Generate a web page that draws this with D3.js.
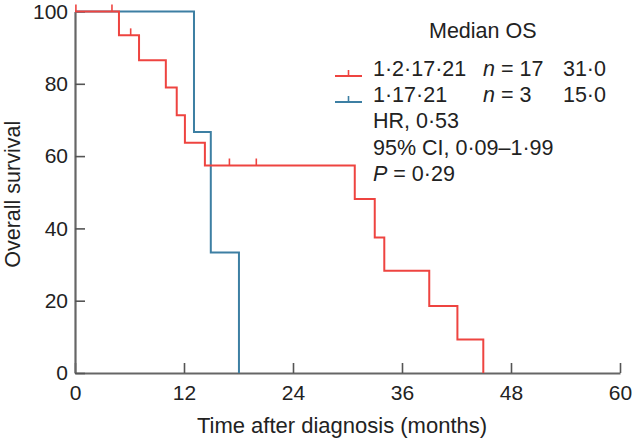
<!DOCTYPE html>
<html>
<head>
<meta charset="utf-8">
<script src="https://cdn.jsdelivr.net/npm/d3@7"></script>
<style>
  html, body { margin: 0; padding: 0; background: #fff; }
  svg { display: block; font-family: "Liberation Sans", Arial, sans-serif; }
</style>
</head>
<body>
<svg id="chart" width="632" height="440"></svg>
<script>
// ---- data ----
const xTicks = [0, 12, 24, 36, 48, 60];
const yTicks = [0, 20, 40, 60, 80, 100];

const redTimes = [0, 4.84, 7.05, 10.0, 11.2, 12.1, 14.3, 30.8, 33.0, 34.05, 39.0, 42.1, 44.95];
const redSurv  = [100, 93.4, 86.5, 79.0, 71.3, 63.7, 57.4, 48.1, 37.5, 28.3, 18.5, 9.3, 0];
const redCensorTimes = [0.1, 4.07, 6.13, 17.0, 19.96];

const blueTimes = [0, 13.1, 14.95, 18.05];
const blueSurv  = [100, 66.7, 33.3, 0];
const blueCensorTimes = [];

const legendGroups = ["1·2·17·21", "1·17·21"];
const legendN = ["17", "3"];
const legendMedian = ["31·0", "15·0"];
const statsLines = ["HR, 0·53", "95% CI, 0·09–1·99"];
const pValue = "0·29";

const RED = "#ee4440";
const BLUE = "#3d7fa3";
const AXIS = "#666";
const TEXT = "#222";

// ---- layout ----
const W = 632, H = 440;
const m = { left: 75, right: 12, top: 11.5, bottom: 67 };
const svg = d3.select("#chart");

const x = d3.scaleLinear().domain([0, 60]).range([m.left, W - m.right]);
const y = d3.scaleLinear().domain([0, 100]).range([H - m.bottom, m.top]);

// axes
const xAxis = d3.axisBottom(x).tickValues(xTicks).tickSizeInner(-10).tickSizeOuter(0).tickPadding(12);
const yAxis = d3.axisLeft(y).tickValues(yTicks).tickSizeInner(-10).tickSizeOuter(0).tickPadding(7);

const gx = svg.append("g").attr("transform", `translate(0,${y(0)})`).call(xAxis);
const gy = svg.append("g").attr("transform", `translate(${x(0)},0)`).call(yAxis);
[gx, gy].forEach(g => {
  g.select(".domain").attr("stroke", AXIS).attr("stroke-width", 2.2);
  g.selectAll(".tick line").attr("stroke", "#555").attr("stroke-width", 1.6);
  g.selectAll(".tick text").attr("fill", TEXT).attr("font-size", 21)
    .attr("font-family", "Liberation Sans, Arial, sans-serif");
});
gx.selectAll(".tick text").attr("dy", "0.71em");

// axis titles
svg.append("text").attr("x", 342).attr("y", 433)
  .attr("text-anchor", "middle").attr("font-size", 22).attr("fill", TEXT)
  .text("Time after diagnosis (months)");
svg.append("text")
  .attr("transform", `translate(20,${(y(0) + y(100)) / 2 + 2}) rotate(-90)`)
  .attr("text-anchor", "middle").attr("font-size", 21.5).attr("fill", TEXT)
  .text("Overall survival");

// curves
function stepData(times, surv) {
  return times.map((t, i) => ({ t, s: surv[i] }));
}
const line = d3.line().x(d => x(d.t)).y(d => y(d.s)).curve(d3.curveStepAfter);

function drawCurve(times, surv, censors, color) {
  const data = stepData(times, surv);
  svg.append("path").datum(data).attr("d", line)
    .attr("fill", "none").attr("stroke", color).attr("stroke-width", 2);
  const survAt = t => {
    let s = surv[0];
    for (let i = 0; i < times.length; i++) if (times[i] <= t) s = surv[i];
    return s;
  };
  svg.selectAll(null).data(censors).enter().append("line")
    .attr("x1", d => x(d)).attr("x2", d => x(d))
    .attr("y1", d => y(survAt(d))).attr("y2", d => y(survAt(d)) - 7)
    .attr("stroke", color).attr("stroke-width", 1.6);
}
drawCurve(blueTimes, blueSurv, blueCensorTimes, BLUE);
drawCurve(redTimes, redSurv, redCensorTimes, RED);

// legend
const lg = svg.append("g").attr("font-size", 21.5).attr("fill", TEXT);
lg.append("text").attr("x", 429).attr("y", 38).text("Median OS");
const rowY = [76, 102];
const colors = [RED, BLUE];
legendGroups.forEach((g, i) => {
  const yy = rowY[i];
  lg.append("line").attr("x1", 335).attr("x2", 362).attr("y1", yy).attr("y2", yy)
    .attr("stroke", colors[i]).attr("stroke-width", 2);
  lg.append("line").attr("x1", 348.5).attr("x2", 348.5).attr("y1", yy).attr("y2", yy - 6)
    .attr("stroke", colors[i]).attr("stroke-width", 1.6);
  lg.append("text").attr("x", 373).attr("y", yy).text(g);
  const t = lg.append("text").attr("x", 483).attr("y", yy);
  t.append("tspan").attr("font-style", "italic").text("n");
  t.append("tspan").text(" = " + legendN[i]);
  lg.append("text").attr("x", 606).attr("y", yy).attr("text-anchor", "end").text(legendMedian[i]);
});
statsLines.forEach((s, i) => {
  lg.append("text").attr("x", 373).attr("y", 128 + i * 26.5).text(s);
});
const pt = lg.append("text").attr("x", 373).attr("y", 181);
pt.append("tspan").attr("font-style", "italic").text("P");
pt.append("tspan").text(" = " + pValue);
</script>
</body>
</html>
